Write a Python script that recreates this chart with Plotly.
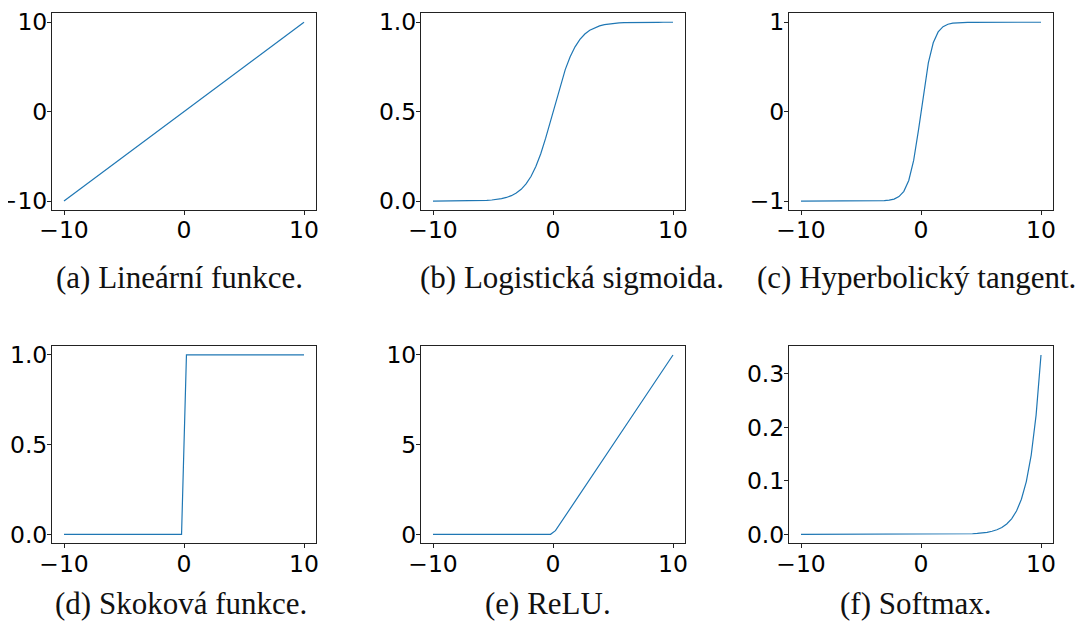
import plotly.graph_objects as go
from plotly.subplots import make_subplots

X = [-10.0, -9.592, -9.184, -8.776, -8.367, -7.959, -7.551, -7.143, -6.735, -6.327,
     -5.918, -5.510, -5.102, -4.694, -4.286, -3.878, -3.469, -3.061, -2.653, -2.245,
     -1.837, -1.429, -1.020, -0.612, -0.204, 0.204, 0.612, 1.020, 1.429, 1.837,
     2.245, 2.653, 3.061, 3.469, 3.878, 4.286, 4.694, 5.102, 5.510, 5.918,
     6.327, 6.735, 7.143, 7.551, 7.959, 8.367, 8.776, 9.184, 9.592, 10.0]

LINEAR = [-10.0, -9.592, -9.184, -8.776, -8.367, -7.959, -7.551, -7.143, -6.735, -6.327,
          -5.918, -5.510, -5.102, -4.694, -4.286, -3.878, -3.469, -3.061, -2.653, -2.245,
          -1.837, -1.429, -1.020, -0.612, -0.204, 0.204, 0.612, 1.020, 1.429, 1.837,
          2.245, 2.653, 3.061, 3.469, 3.878, 4.286, 4.694, 5.102, 5.510, 5.918,
          6.327, 6.735, 7.143, 7.551, 7.959, 8.367, 8.776, 9.184, 9.592, 10.0]

SIGMOID = [0.00005, 0.00007, 0.0001, 0.00015, 0.00023, 0.00035, 0.00053, 0.00079, 0.00119, 0.00179,
           0.00268, 0.00403, 0.00605, 0.00907, 0.01357, 0.0203, 0.0302, 0.0447, 0.0658, 0.0958,
           0.1374, 0.1933, 0.2650, 0.3516, 0.4492, 0.5508, 0.6484, 0.7350, 0.8067, 0.8626,
           0.9042, 0.9342, 0.9553, 0.9698, 0.9797, 0.9864, 0.9909, 0.9940, 0.9960, 0.9973,
           0.9982, 0.9988, 0.9992, 0.9995, 0.9997, 0.9998, 0.9998, 0.9999, 0.9999, 1.0]

TANH = [-1.0, -1.0, -1.0, -1.0, -1.0, -1.0, -1.0, -1.0, -1.0, -1.0,
        -1.0, -1.0, -0.9999, -0.9998, -0.9996, -0.9991, -0.9981, -0.9956, -0.9901, -0.9778,
        -0.9505, -0.8914, -0.7699, -0.5455, -0.2013, 0.2013, 0.5455, 0.7699, 0.8914, 0.9505,
        0.9778, 0.9901, 0.9956, 0.9981, 0.9991, 0.9996, 0.9998, 0.9999, 1.0, 1.0,
        1.0, 1.0, 1.0, 1.0, 1.0, 1.0, 1.0, 1.0, 1.0, 1.0]

STEP = [0, 0, 0, 0, 0, 0, 0, 0, 0, 0,
        0, 0, 0, 0, 0, 0, 0, 0, 0, 0,
        0, 0, 0, 0, 0, 1, 1, 1, 1, 1,
        1, 1, 1, 1, 1, 1, 1, 1, 1, 1,
        1, 1, 1, 1, 1, 1, 1, 1, 1, 1]

RELU = [0, 0, 0, 0, 0, 0, 0, 0, 0, 0,
        0, 0, 0, 0, 0, 0, 0, 0, 0, 0,
        0, 0, 0, 0, 0, 0.204, 0.612, 1.020, 1.429, 1.837,
        2.245, 2.653, 3.061, 3.469, 3.878, 4.286, 4.694, 5.102, 5.510, 5.918,
        6.327, 6.735, 7.143, 7.551, 7.959, 8.367, 8.776, 9.184, 9.592, 10.0]

SOFTMAX = [0, 0, 0, 0, 0, 0, 0, 0, 0, 0,
           0, 0, 0, 0, 0, 0, 0, 0, 0, 0,
           0, 0, 0, 0, 0, 0, 0, 0, 0, 0.0001,
           0.0001, 0.0002, 0.0003, 0.0005, 0.0007, 0.0011, 0.0017, 0.0025, 0.0038, 0.0057,
           0.0085, 0.0128, 0.0193, 0.0290, 0.0435, 0.0655, 0.0985, 0.1481, 0.2228, 0.3351]

CAPTIONS = ["(a) Lineární funkce.", "(b) Logistická sigmoida.", "(c) Hyperbolický tangent.",
            "(d) Skoková funkce.", "(e) ReLU.", "(f) Softmax."]

SERIES = [LINEAR, SIGMOID, TANH, STEP, RELU, SOFTMAX]
Y_TICKS = [[-10, 0, 10], [0, 0.5, 1], [-1, 0, 1], [0, 0.5, 1], [0, 5, 10], [0, 0.1, 0.2, 0.3]]
Y_FORMAT = ["d", ".1f", "d", ".1f", "d", ".1f"]
X_TICKS = [-10, 0, 10]

# The page body has an 8px margin, so the figure sits 8px right and down.
OFF = 8
W, H = 1086 - OFF, 622 - OFF
col_px = [(52, 316), (421, 685), (789, 1053)]
row_px = [(13.3, 210), (346, 543.3)]
cap_cx = [179, 572, 916, 181, 548, 916]
cap_cy = [277, 603]

fig = make_subplots(rows=2, cols=3)
LINE = "#1f77b4"
tickfont = dict(family="DejaVu Sans", size=23.5, color="black")

def yrange(vals):
    lo, hi = min(vals), max(vals)
    pad = (hi - lo) * 0.05
    return [lo - pad, hi + pad]

for i, ys in enumerate(SERIES):
    r, c = i // 3 + 1, i % 3 + 1
    fig.add_trace(go.Scatter(x=X, y=ys, mode="lines",
                             line=dict(color=LINE, width=1.2), showlegend=False),
                  row=r, col=c)
    x0, x1 = [v - OFF for v in col_px[c - 1]]
    t0, t1 = [v - OFF for v in row_px[r - 1]]
    axis_common = dict(showgrid=False, zeroline=False, showline=True, mirror=True,
                       linecolor="#222", linewidth=1, ticks="outside", ticklen=4,
                       tickwidth=1, tickcolor="#222", tickfont=tickfont, automargin=False)
    fig.update_xaxes(domain=[x0 / W, x1 / W], range=[-11, 11], tickvals=X_TICKS,
                     tickformat="d", ticklabelstandoff=-5, row=r, col=c, **axis_common)
    fig.update_yaxes(domain=[1 - t1 / H, 1 - t0 / H], range=yrange(ys),
                     tickvals=Y_TICKS[i], tickformat=Y_FORMAT[i], ticklabelstandoff=-5,
                     row=r, col=c, **axis_common)
    fig.add_annotation(text=CAPTIONS[i], xref="paper", yref="paper",
                       x=(cap_cx[i] - OFF) / W, y=1 - (cap_cy[r - 1] - OFF) / H,
                       xanchor="center", yanchor="middle", showarrow=False,
                       font=dict(family="Liberation Serif", size=31, color="#111"))

fig.update_layout(width=W, height=H, margin=dict(l=0, r=0, t=0, b=0),
                  plot_bgcolor="white", paper_bgcolor="white")

fig.write_html("out.html")
